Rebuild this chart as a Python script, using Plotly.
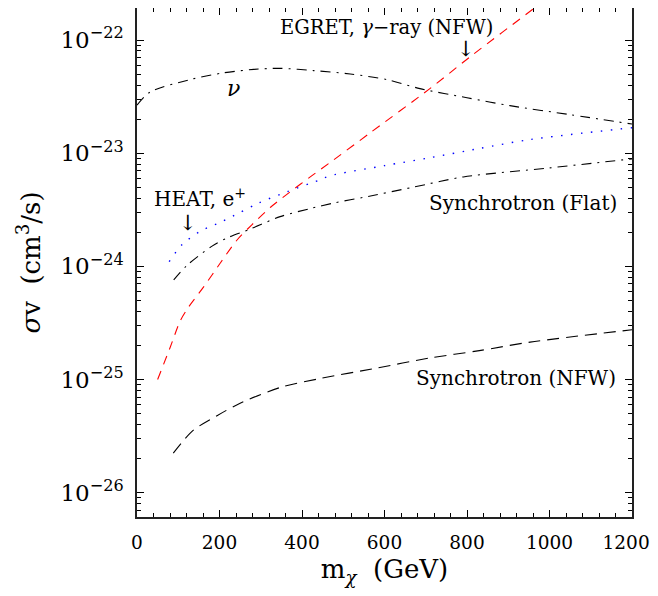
import plotly.graph_objects as go

# ---- data ----
nu_x = [0, 32, 129, 210, 283, 347, 428, 517, 606, 686, 800, 904, 1050, 1200]
nu_y = [2.66e-23, 3.47e-23, 4.47e-23, 5.13e-23, 5.5e-23, 5.62e-23, 5.37e-23, 5.01e-23,
        4.47e-23, 3.72e-23, 3.09e-23, 2.63e-23, 2.19e-23, 1.81e-23]

egret_x = [50, 81, 105, 125, 162, 202, 242, 279, 323, 372, 420, 469, 565, 710, 807, 970, 1020]
egret_y = [1.0e-25, 1.95e-25, 3.31e-25, 4.37e-25, 6.61e-25, 1.07e-24, 1.70e-24, 2.34e-24,
           3.31e-24, 4.57e-24, 6.17e-24, 8.32e-24, 1.51e-23, 3.72e-23, 7.08e-23, 2.0e-22, 2.75e-22]

heat_x = [78, 109, 153, 202, 246, 295, 364, 440, 467, 600, 710, 830, 953, 1200]
heat_y = [1.10e-24, 1.55e-24, 2.04e-24, 2.45e-24, 2.95e-24, 3.63e-24, 4.57e-24, 5.75e-24,
          6.3e-24, 7.76e-24, 9.12e-24, 1.10e-23, 1.32e-23, 1.68e-23]

flat_x = [89, 121, 182, 218, 275, 347, 420, 477, 549, 670, 791, 1000, 1200]
flat_y = [7.59e-25, 1.02e-24, 1.51e-24, 1.78e-24, 2.14e-24, 2.75e-24, 3.24e-24, 3.63e-24,
          4.07e-24, 5.01e-24, 6.17e-24, 7.41e-24, 8.91e-24]

nfw_x = [88, 136, 194, 250, 347, 444, 580, 710, 830, 953, 1200]
nfw_y = [2.24e-26, 3.55e-26, 4.79e-26, 6.17e-26, 8.5e-26, 1.02e-25, 1.26e-25, 1.55e-25,
         1.8e-25, 2.14e-25, 2.75e-25]

y_ticks = [1e-26, 1e-25, 1e-24, 1e-23, 1e-22]
y_ticktext = ["10<sup>−26</sup>", "10<sup>−25</sup>", "10<sup>−24</sup>", "10<sup>−23</sup>", "10<sup>−22</sup>"]
y_minor = [m * 10.0 ** e for e in range(-27, -21) for m in range(2, 10)]
x_ticks = [0, 200, 400, 600, 800, 1000, 1200]
# last label padded with non-breaking spaces so it stays inside the visible page
x_ticktext = ["0", "200", "400", "600", "800", "1000", "1200\u00a0\u00a0"]

FONT = "DejaVu Serif"
DASHDOT = "10px,6px,2px,6px"

fig = go.Figure()
fig.add_trace(go.Scatter(x=nu_x, y=nu_y, mode="lines",
                         line=dict(color="black", width=1.1, dash=DASHDOT, shape="spline", smoothing=0.8)))
fig.add_trace(go.Scatter(x=egret_x, y=egret_y, mode="lines",
                         line=dict(color="#ff0000", width=1.1, dash="9px,7px", shape="spline", smoothing=0.8)))
fig.add_trace(go.Scatter(x=heat_x, y=heat_y, mode="lines",
                         line=dict(color="#0000ff", width=1.4, dash="1.5px,8.5px", shape="spline", smoothing=0.8)))
fig.add_trace(go.Scatter(x=flat_x, y=flat_y, mode="lines",
                         line=dict(color="black", width=1.1, dash=DASHDOT, shape="spline", smoothing=0.8)))
fig.add_trace(go.Scatter(x=nfw_x, y=nfw_y, mode="lines",
                         line=dict(color="black", width=1.1, dash="12px,7px", shape="spline", smoothing=0.8)))

annots = [
    dict(x=868, y=-21.885, text="EGRET, <i>γ</i>−ray (NFW)", xanchor="right", size=19.5),
    dict(x=798, y=-22.075, text="↓", xanchor="center", size=21),
    dict(x=233, y=-22.43, text="<i>ν</i>", xanchor="center", size=22),
    dict(x=269, y=-23.40, text="HEAT, e<sup>+</sup>", xanchor="right", size=20),
    dict(x=123, y=-23.62, text="↓", xanchor="center", size=21),
    dict(x=1168, y=-23.44, text="Synchrotron (Flat)", xanchor="right", size=20),
    dict(x=1166, y=-24.99, text="Synchrotron (NFW)", xanchor="right", size=20),
]
for a in annots:
    fig.add_annotation(x=a["x"], y=a["y"], text=a["text"], xanchor=a["xanchor"], yanchor="middle",
                       showarrow=False, font=dict(family=FONT, size=a["size"], color="black"),
                       xref="x", yref="y")

fig.update_layout(
    width=650, height=580,
    margin=dict(l=129, r=26, t=0, b=71, autoexpand=False),
    paper_bgcolor="white", plot_bgcolor="white",
    showlegend=False,
    font=dict(family=FONT, size=18, color="black"),
)
fig.update_xaxes(
    range=[0, 1200], tickvals=x_ticks, ticktext=x_ticktext, ticks="inside", ticklen=7, tickwidth=1,
    tickcolor="black", ticklabeloverflow="allow",
    showline=True, linecolor="#222222", linewidth=1.5, mirror="allticks", showgrid=False, zeroline=False,
    minor=dict(ticks="inside", ticklen=4, dtick=40, tickcolor="black", showgrid=False),
    tickfont=dict(family=FONT, size=18.5), ticklabelstandoff=8, automargin=False,
    title=dict(text="m<sub><i>χ</i></sub>  (GeV)", font=dict(family=FONT, size=26), standoff=8),
)
fig.update_yaxes(
    type="log", range=[-26.215, -21.717], tickvals=y_ticks, ticktext=y_ticktext,
    ticks="inside", ticklen=7, tickwidth=1, tickcolor="black",
    showline=True, linecolor="#222222", linewidth=1.5, mirror="allticks", showgrid=False, zeroline=False,
    minor=dict(ticks="inside", ticklen=4, tickcolor="black", showgrid=False, tickvals=y_minor),
    tickfont=dict(family=FONT, size=23), ticklabelstandoff=7, automargin=False,
    title=dict(text="<i>σ</i>v  (cm<sup>3</sup>/s)", font=dict(family=FONT, size=26), standoff=12),
)

fig.write_html("out.html")
